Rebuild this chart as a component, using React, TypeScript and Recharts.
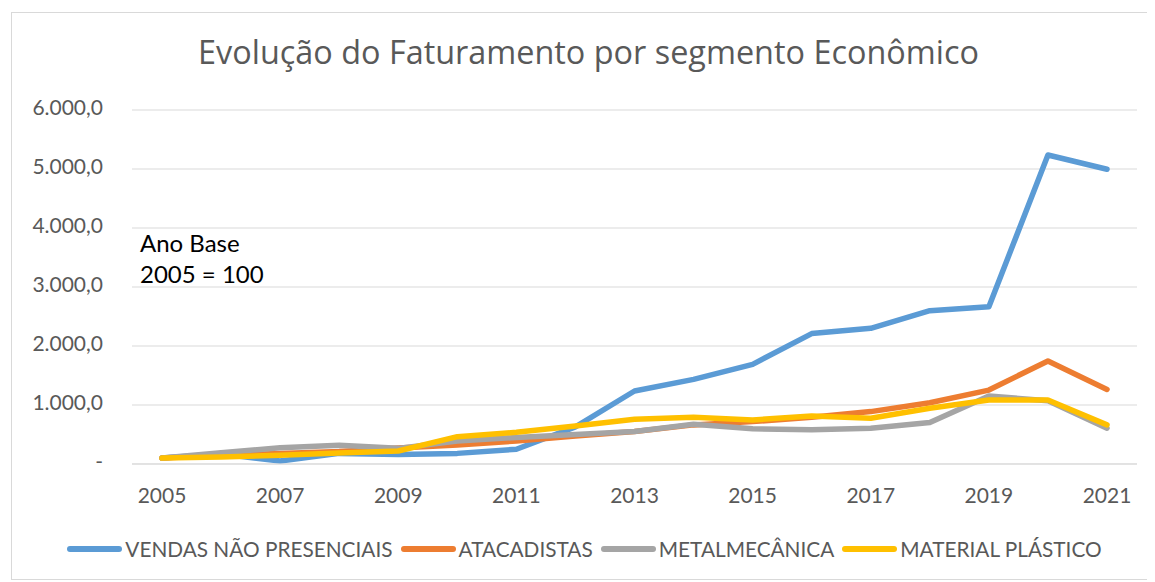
import { LineChart, Line, XAxis, YAxis, CartesianGrid, Legend } from 'recharts'

const years = ['2005', '2006', '2007', '2008', '2009', '2010', '2011', '2012', '2013', '2014', '2015', '2016', '2017', '2018', '2019', '2020', '2021']

const vendas = [100, 170, 50, 180, 160, 180, 250, 630, 1237, 1435, 1689, 2210, 2300, 2599, 2665, 5237, 4995]
const atacadistas = [100, 150, 180, 210, 270, 320, 390, 475, 550, 663, 719, 792, 888, 1039, 1253, 1747, 1264]
const metal = [100, 190, 277, 316, 265, 390, 450, 500, 550, 674, 596, 579, 607, 702, 1152, 1073, 607]
const plastico = [100, 120, 147, 186, 220, 463, 537, 644, 758, 792, 747, 815, 775, 944, 1084, 1084, 663]

const yTicks = [0, 1000, 2000, 3000, 4000, 5000, 6000]

const SERIES = [
  { key: 'vendas', name: 'VENDAS NÃO PRESENCIAIS', color: '#5B9BD5' },
  { key: 'atacadistas', name: 'ATACADISTAS', color: '#ED7D31' },
  { key: 'metal', name: 'METALMECÂNICA', color: '#A5A5A5' },
  { key: 'plastico', name: 'MATERIAL PLÁSTICO', color: '#FFC000' },
]

const data = years.map((y, i) => ({
  year: y,
  vendas: vendas[i],
  atacadistas: atacadistas[i],
  metal: metal[i],
  plastico: plastico[i],
}))

const FONT = 'Lato, "Open Sans", sans-serif'
const TEXT = '#595959'

function fmt(v: number) {
  if (v === 0) return '-'
  return v.toLocaleString('pt-BR', { minimumFractionDigits: 1, maximumFractionDigits: 1 })
}

function renderLegend() {
  return (
    <div style={{ display: 'flex', justifyContent: 'center', alignItems: 'center', paddingLeft: 16, fontFamily: FONT, fontSize: 20.8, color: TEXT }}>
      {SERIES.map(s => (
        <div key={s.key} style={{ display: 'flex', alignItems: 'center', marginRight: 8 }}>
          <span style={{ display: 'inline-block', width: 55, height: 6, borderRadius: 3, background: s.color, marginRight: 3 }} />
          <span>{s.name}</span>
        </div>
      ))}
    </div>
  )
}

export default function App() {
  return (
    <div style={{ position: 'relative', width: 1137, height: 566, border: '1px solid #d9d9d9', marginLeft: 3, marginTop: 4, background: '#fff' }}>
      <div style={{ position: 'absolute', top: 16, left: 8, width: 1137, textAlign: 'center', fontFamily: '"Open Sans", sans-serif', fontSize: 32.4, color: TEXT, whiteSpace: 'nowrap' }}>
        Evolução do Faturamento por segmento Econômico
      </div>
      <LineChart width={1137} height={566} data={data} margin={{ top: 97, right: 12, bottom: 75, left: 20 }}>
        <CartesianGrid vertical={false} stroke="#d9d9d9" />
        <XAxis
          dataKey="year"
          interval={1}
          tickSize={0}
          tickMargin={24}
          padding={{ left: 30, right: 30 }}
          axisLine={{ stroke: '#d9d9d9' }}
          tick={{ fill: TEXT, fontSize: 21, fontFamily: FONT }}
          height={40}
        />
        <YAxis
          domain={[0, 6000]}
          ticks={yTicks}
          tickFormatter={fmt}
          width={100}
          tickSize={0}
          tickMargin={29}
          axisLine={false}
          tick={{ fill: TEXT, fontSize: 21, fontFamily: FONT, dy: -2 }}
        />
        <Legend content={renderLegend} verticalAlign="middle" wrapperStyle={{ top: 523, left: 0, width: 1137 }} />
        {SERIES.map(s => (
          <Line
            key={s.key}
            dataKey={s.key}
            name={s.name}
            stroke={s.color}
            strokeWidth={5.5}
            strokeLinecap="round"
            strokeLinejoin="round"
            dot={false}
            activeDot={false}
            isAnimationActive={false}
          />
        ))}
      </LineChart>
      <div style={{ position: 'absolute', left: 128, top: 214, fontFamily: FONT, fontSize: 24, color: '#000', lineHeight: '31px' }}>
        Ano Base<br />2005 = 100
      </div>
    </div>
  )
}
